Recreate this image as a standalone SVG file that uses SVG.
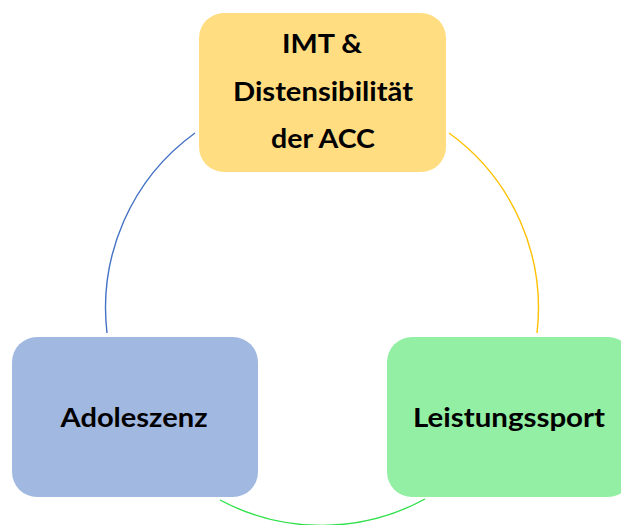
<svg xmlns="http://www.w3.org/2000/svg" width="621" height="525" viewBox="0 0 621 525">
<style>
.box{stroke:none}
.lbl{font-family:Lato,"Open Sans","Liberation Sans",sans-serif;font-weight:bold;font-size:27px;fill:#000;text-anchor:middle}
.arc{fill:none;stroke-width:1.4}
</style>
<rect width="621" height="525" fill="#fff"/>
<g id="connectors">
<path class="arc" stroke="#4472C4" d="M195,133 A216,216 0 0 0 107,333"/>
<path class="arc" stroke="#FFC000" d="M449,133 A216,216 0 0 1 537,333"/>
<path class="arc" stroke="#2EE04A" d="M220,500 A216,216 0 0 0 425,499"/>
</g>
<g id="node-top">
<rect class="box" x="199" y="13" width="247" height="159" rx="25" fill="#FFDD80"/>
<text class="lbl" x="322" y="53" textLength="80" lengthAdjust="spacingAndGlyphs">IMT &amp;</text>
<text class="lbl" x="323" y="101" textLength="180" lengthAdjust="spacingAndGlyphs">Distensibilität</text>
<text class="lbl" x="323" y="148" textLength="104" lengthAdjust="spacingAndGlyphs">der ACC</text>
</g>
<g id="node-left">
<rect class="box" x="12" y="337" width="246" height="160" rx="25" fill="#A1B8E1"/>
<text class="lbl" x="134" y="427" textLength="147" lengthAdjust="spacingAndGlyphs">Adoleszenz</text>
</g>
<g id="node-right">
<rect class="box" x="387" y="337" width="246" height="160" rx="25" fill="#93EFA4"/>
<text class="lbl" x="509" y="427" textLength="192" lengthAdjust="spacingAndGlyphs">Leistungssport</text>
</g>
</svg>
